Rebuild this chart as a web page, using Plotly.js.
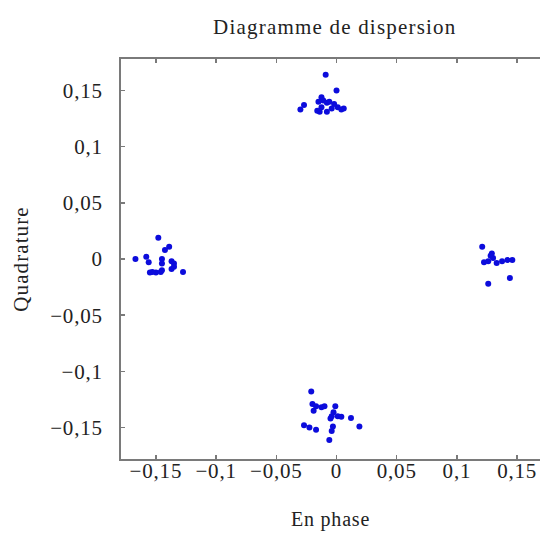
<!DOCTYPE html>
<html>
<head>
<meta charset="utf-8">
<script src="https://cdn.plot.ly/plotly-3.0.1.min.js"></script>
<style>
body{margin:0;padding:0;background:#fff;}
#chart text{letter-spacing:0.8px;}
#chart text.gtitle{letter-spacing:1.2px;}
#chart text.ytitle{letter-spacing:1.1px;}
</style>
</head>
<body>
<div id="chart" style="width:540px;height:536px;"></div>
<script>
// Constellation points (In-phase, Quadrature)
const topI = [-0.009,0,-0.0125,-0.011,-0.015,-0.008,-0.006,-0.0125,-0.014,-0.008,0.001,0.004,0.006,-0.027,-0.030,-0.016,-0.004,-0.002];
const topQ = [0.164,0.150,0.144,0.141,0.140,0.139,0.140,0.135,0.131,0.131,0.135,0.133,0.134,0.137,0.133,0.132,0.134,0.138];
const leftI = [-0.148,-0.139,-0.1425,-0.167,-0.158,-0.156,-0.145,-0.145,-0.137,-0.135,-0.137,-0.155,-0.150,-0.146,-0.145,-0.1275,-0.135,-0.153];
const leftQ = [0.019,0.011,0.008,0.0,0.002,-0.003,0.0,-0.004,-0.002,-0.004,-0.009,-0.012,-0.012,-0.0115,-0.010,-0.0115,-0.007,-0.0115];
const rightI = [0.121,0.129,0.1225,0.126,0.130,0.133,0.1375,0.142,0.146,0.144,0.126,0.128];
const rightQ = [0.011,0.005,-0.003,-0.002,0.001,-0.0035,-0.002,-0.001,-0.001,-0.017,-0.022,0.003];
const botI = [-0.021,-0.020,-0.017,-0.0125,-0.010,-0.019,-0.001,-0.0025,-0.004,-0.005,0.001,0.004,0.012,0.019,-0.027,-0.0225,-0.017,-0.003,-0.004,-0.006];
const botQ = [-0.118,-0.129,-0.131,-0.132,-0.131,-0.135,-0.131,-0.1365,-0.140,-0.142,-0.140,-0.1405,-0.1415,-0.149,-0.148,-0.150,-0.152,-0.149,-0.153,-0.161];

const xTickVals = [-0.15,-0.1,-0.05,0,0.05,0.1,0.15];
const xTickText = ['\u22120,15','\u22120,1','\u22120,05','0','0,05','0,1','0,15'];
const yTickVals = [-0.15,-0.1,-0.05,0,0.05,0.1,0.15];
const yTickText = ['\u22120,15','\u22120,1','\u22120,05','0','0,05','0,1','0,15'];

const I = topI.concat(leftI, rightI, botI);
const Q = topQ.concat(leftQ, rightQ, botQ);

const fam = '"Liberation Serif", "Times New Roman", serif';

const data = [{
  x: I, y: Q, type:'scatter', mode:'markers',
  marker:{color:'#0c0cdc', size:6},
  hoverinfo:'none'
}];

const layout = {
  width:540, height:536,
  margin:{l:121, r:0, t:59, b:77},
  paper_bgcolor:'#fff', plot_bgcolor:'#fff',
  showlegend:false,
  font:{family:fam, size:20, color:'#222'},
  title:{text:'Diagramme de dispersion', font:{family:fam, size:21, color:'#222'}, x:0.62, xanchor:'center', y:0.95, yanchor:'middle'},
  xaxis:{
    range:[-0.179,0.169], showgrid:false, zeroline:false,
    showline:true, linecolor:'#7a7a7a', linewidth:2, mirror:'ticks',
    ticks:'inside', ticklen:4, tickcolor:'#7a7a7a', tickwidth:1.5,
    tickvals:xTickVals, ticktext:xTickText, ticklabelstandoff:-8,
    tickfont:{family:fam, size:21, color:'#222'},
    title:{text:'En phase', font:{family:fam, size:20, color:'#222'}, standoff:30}
  },
  yaxis:{
    range:[-0.178,0.178], showgrid:false, zeroline:false,
    showline:true, linecolor:'#7a7a7a', linewidth:2, mirror:false,
    ticks:'inside', ticklen:4, tickcolor:'#7a7a7a', tickwidth:1.5,
    tickvals:yTickVals, ticktext:yTickText, ticklabelstandoff:12,
    tickfont:{family:fam, size:21, color:'#222'},
    title:{text:'Quadrature', font:{family:fam, size:21, color:'#222'}, standoff:20}
  }
};

Plotly.newPlot('chart', data, layout, {staticPlot:true, displayModeBar:false});
</script>
</body>
</html>
